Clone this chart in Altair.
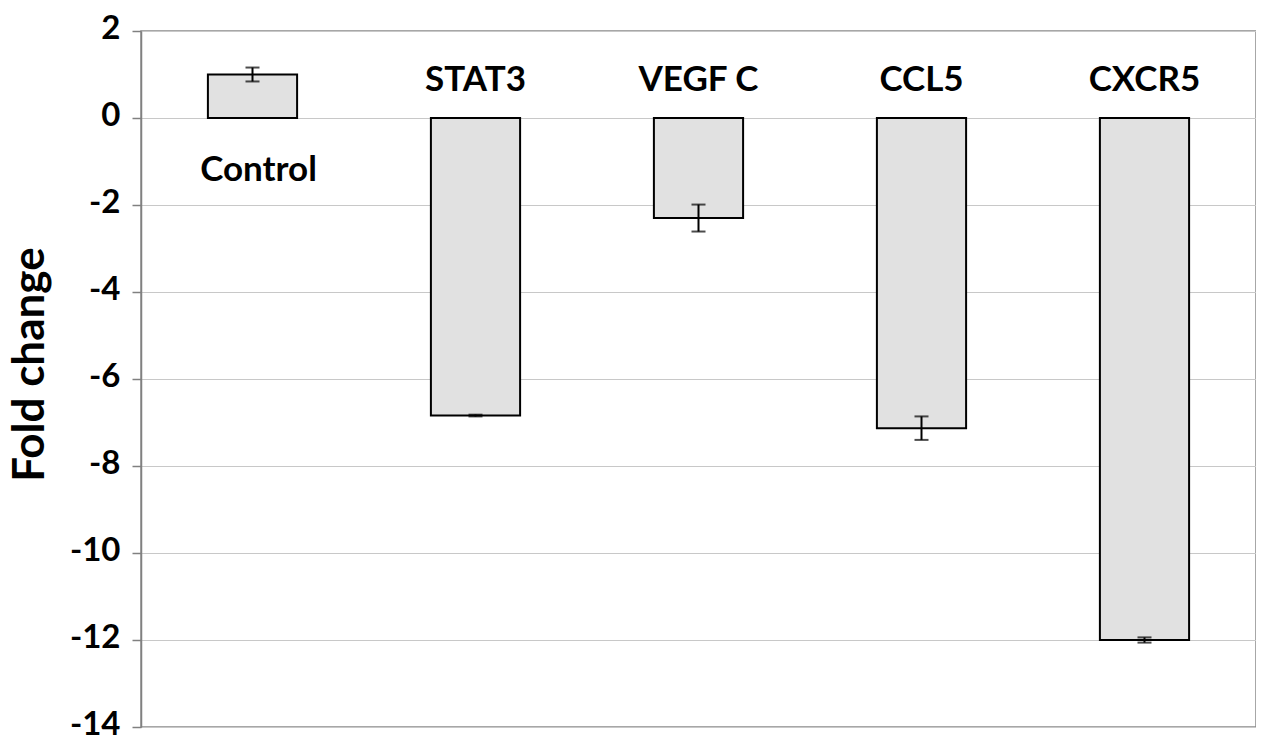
import altair as alt
import pandas as pd

categories = ["Control", "STAT3", "VEGF C", "CCL5", "CXCR5"]
values = [1.0, -6.84, -2.30, -7.13, -12.0]
errors = [0.16, 0.02, 0.31, 0.27, 0.06]
y_ticks = [-14, -12, -10, -8, -6, -4, -2, 0, 2]

df = pd.DataFrame({"cat": categories, "val": values, "err": errors})
df["lo"] = df["val"] - df["err"]
df["hi"] = df["val"] + df["err"]
df["pos"] = df["val"] >= 0
df["zero"] = 0.0

FONT = "Lato"
yscale = alt.Scale(domain=[-14, 2], nice=False, zero=False)
xenc = alt.X("cat:N", sort=None, axis=None,
             scale=alt.Scale(paddingInner=0.6, paddingOuter=0.3))

base = alt.Chart(df)

bars = base.mark_bar(fill="#e1e1e1", stroke="black", strokeWidth=2).encode(
    x=xenc,
    y=alt.Y("val:Q", scale=yscale,
            axis=alt.Axis(values=y_ticks, title="Fold change", grid=True,
                          labelExpr="toString(datum.value)",
                          titleX=-98, titleY=333, titleAngle=270,
                          titleAlign="center", titleBaseline="alphabetic")),
)

rule = base.mark_rule(color="black", strokeWidth=2).encode(
    x=xenc, y=alt.Y("lo:Q", scale=yscale), y2="hi:Q")
cap_lo = base.mark_tick(color="black", thickness=2, size=14).encode(
    x=xenc, y=alt.Y("lo:Q", scale=yscale))
cap_hi = base.mark_tick(color="black", thickness=2, size=14).encode(
    x=xenc, y=alt.Y("hi:Q", scale=yscale))

lab_neg = base.transform_filter("!datum.pos").mark_text(
    font=FONT, fontWeight="bold", fontSize=35, baseline="alphabetic",
    align="center", dy=-27, color="black").encode(
    x=xenc, y=alt.Y("zero:Q", scale=yscale), text="cat:N")
lab_pos = base.transform_filter("datum.pos").mark_text(
    font=FONT, fontWeight="bold", fontSize=35, baseline="alphabetic",
    align="center", dy=63, dx=6, color="black").encode(
    x=xenc, y=alt.Y("zero:Q", scale=yscale), text="cat:N")

chart = alt.layer(bars, rule, cap_lo, cap_hi, lab_neg, lab_pos).properties(
    width=1115, height=696,
    autosize=alt.AutoSizeParams(type="none"),
    padding={"left": 133, "top": 23, "right": 0, "bottom": 10},
).configure_view(
    stroke="#8a8a8a", strokeWidth=1.5
).configure_axis(
    domainColor="#808080", domainWidth=1.5,
    tickColor="#808080", tickSize=9, tickWidth=1.5,
    gridColor="#c8c8c8", gridWidth=1,
    labelFont=FONT, labelFontWeight="bold", labelFontSize=33,
    labelColor="black", labelPadding=12, labelOffset=-3,
    titleFont=FONT, titleFontWeight="bold", titleFontSize=44,
    titleColor="black",
)

chart.save("out.html", embed_options={"renderer": "svg", "actions": False})
